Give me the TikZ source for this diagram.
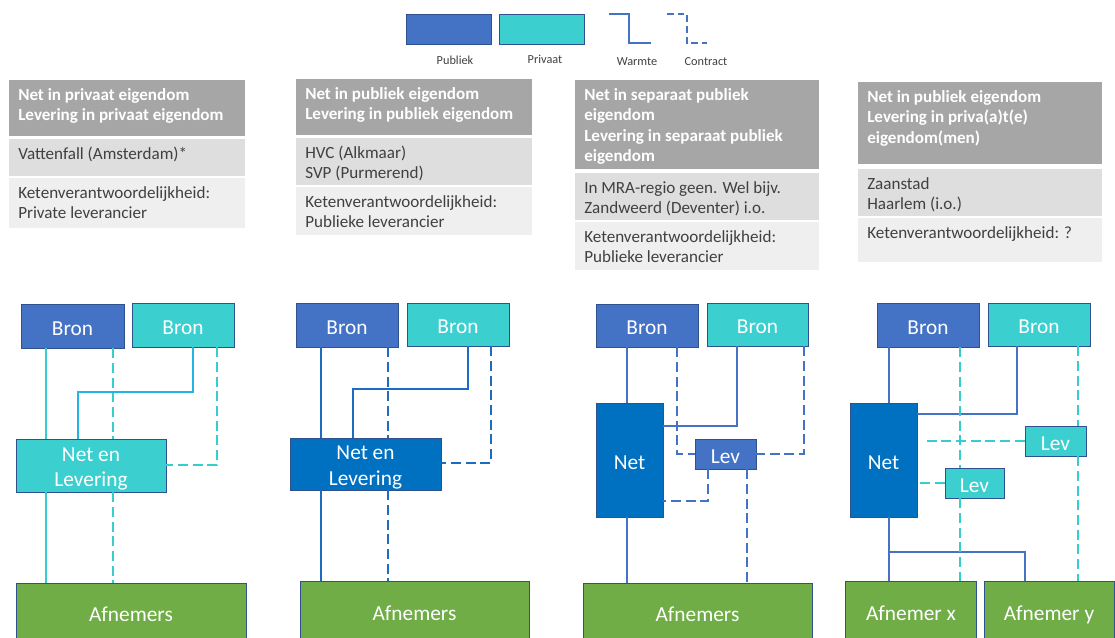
\documentclass[tikz,border=0pt]{standalone}
\usepackage{fontspec}
\setmainfont{Carlito}
\usepackage{tikz}
\definecolor{publiek}{HTML}{4472C4}
\definecolor{privaat}{HTML}{3BCFCF}
\definecolor{netblauw}{HTML}{0070C0}
\definecolor{afnemer}{HTML}{70AD47}
\definecolor{rand}{HTML}{2F528F}
\definecolor{kop}{HTML}{A6A6A6}
\definecolor{rij1}{HTML}{DEDEDE}
\definecolor{rij2}{HTML}{EFEFEF}
\definecolor{tekst}{HTML}{404040}
\definecolor{lijnblauw}{HTML}{4472C4}
\definecolor{lijnnet}{HTML}{1C6DC1}
\definecolor{lijnturkoois}{HTML}{36CCD0}
\definecolor{lijnlicht}{HTML}{22B4E4}
\newlength\px
\setlength\px{0.75pt}
\newcommand{\cellbox}[3]{\parbox[t][#2\px][t]{#1\px}{\raggedright\rule{0pt}{15pt}#3}}
\newcommand{\topstrut}{\rule{0pt}{17.2pt}}
\newcommand{\botstrut}{\rule[-3.5pt]{0pt}{3.5pt}}

\begin{document}
\begin{tikzpicture}[
            x=0.75pt, y=-0.75pt,
            box/.style 2 args={rectangle,draw=rand,line width=0.6pt,text=white,inner sep=0pt,align=center,
              font=\fontsize{16}{19}\selectfont,minimum width=#1*0.75pt,minimum height=#2*0.75pt,
              execute at begin node=\topstrut,execute at end node=\botstrut},
            twolines/.style={execute at begin node=\rule{0pt}{35pt}},
            cell/.style={anchor=north west,inner xsep=6.75pt,inner ysep=0pt,fill=#1},
            kopcell/.style={cell=kop,text=white,font=\fontsize{12.8}{15.4}\selectfont\bfseries},
            rijcell/.style={cell=#1,text=tekst,font=\fontsize{12.8}{15.4}\selectfont},
            lbl/.style={text=tekst,font=\fontsize{9.2}{11}\selectfont},
            warm/.style={draw=#1,line width=2.2pt},
            contract/.style={draw=#1,line width=2.2pt,dash pattern=on 7.5pt off 3.5pt},
            ]
            \useasboundingbox (0,0) rectangle (1115,637);
            \clip (0,0) rectangle (1115,637);

            \node[box={85}{30}, fill=publiek] (legpub) at (448.5,29) {};
            \node[box={85}{30}, fill=privaat] (legpriv) at (541.5,29) {};
            \node[lbl] (legpubtxt) at (455,60) {Publiek};
            \node[lbl] (legprivtxt) at (545,59) {Privaat};
            \node[lbl] (legwarmtxt) at (637,62) {Warmte};
            \node[lbl] (legcontrtxt) at (706,62) {Contract};
            \draw[warm=lijnblauw] (609,14) -- (629,14) -- (629,43) -- (651,43);
            \draw[draw=lijnblauw, line width=2.2pt, dash pattern=on 5pt off 3pt] (667,14) -- (687,14) -- (687,43) -- (707,43);

            \node[kopcell] (kop1) at (9,80) {\cellbox{218}{56}{Net in privaat eigendom\\Levering in privaat eigendom}};
            \node[rijcell=rij1] (voorb1) at (9,139) {\cellbox{218}{37}{Vattenfall (Amsterdam)*}};
            \node[rijcell=rij2] (keten1) at (9,178) {\cellbox{218}{50}{Ketenverantwoordelijkheid:\\Private leverancier}};

            \node[kopcell] (kop2) at (296,79) {\cellbox{218}{56}{Net in publiek eigendom\\Levering in publiek eigendom}};
            \node[rijcell=rij1] (voorb2) at (296,138) {\cellbox{218}{47}{HVC (Alkmaar)\\SVP (Purmerend)}};
            \node[rijcell=rij2] (keten2) at (296,187) {\cellbox{218}{48}{Ketenverantwoordelijkheid:\\Publieke leverancier}};

            \node[kopcell] (kop3) at (575,80) {\cellbox{226}{89}{Net in separaat publiek\\eigendom\\Levering in separaat publiek\\eigendom}};
            \node[rijcell=rij1] (voorb3) at (575,173) {\cellbox{226}{47}{In MRA-regio geen. Wel bijv.\\Zandweerd (Deventer) i.o.}};
            \node[rijcell=rij2] (keten3) at (575,222) {\cellbox{226}{48}{Ketenverantwoordelijkheid:\\Publieke leverancier}};

            \node[kopcell] (kop4) at (858,82) {\cellbox{226}{82}{Net in publiek eigendom\\Levering in priva(a)t(e)\\eigendom(men)}};
            \node[rijcell=rij1] (voorb4) at (858,169) {\cellbox{226}{47}{Zaanstad\\Haarlem (i.o.)}};
            \node[rijcell=rij2] (keten4) at (858,218) {\cellbox{226}{44}{Ketenverantwoordelijkheid: ?}};

            \node[box={103}{44}, fill=publiek] (bronA1) at (72.5,326) {Bron};
            \node[box={102}{44}, fill=privaat] (bronB1) at (183,325) {Bron};
            \node[box={150}{53}, fill=privaat, twolines] (netlev1) at (91,465.5) {Net en\\Levering};
            \node[box={230}{58}, fill=afnemer] (afn1) at (131,612) {Afnemers};
            \draw[warm=lijnturkoois] (bronA1.south -| 46,0) -- (netlev1.north -| 46,0);
            \draw[warm=lijnturkoois] (netlev1.south -| 46,0) -- (afn1.north -| 46,0);
            \draw[contract=lijnturkoois] (bronA1.south -| 113,0) -- (netlev1.north -| 113,0);
            \draw[contract=lijnturkoois] (netlev1.south -| 113,0) -- (afn1.north -| 113,0);
            \draw[warm=lijnlicht] (bronB1.south -| 193,0) |- (78,392) -- (netlev1.north -| 78,0);
            \draw[contract=lijnturkoois] (bronB1.south -| 217,0) |- (netlev1.east |- 0,465);

            \node[box={102}{44}, fill=publiek] (bronA2) at (347,325) {Bron};
            \node[box={102}{43}, fill=privaat] (bronB2) at (458,324.5) {Bron};
            \node[box={151}{52}, fill=netblauw, twolines] (netlev2) at (365.5,464) {Net en\\Levering};
            \node[box={229}{60}, fill=afnemer] (afn2) at (414.5,611) {Afnemers};
            \draw[warm=lijnnet] (bronA2.south -| 321,0) -- (netlev2.north -| 321,0);
            \draw[warm=lijnnet] (netlev2.south -| 321,0) -- (afn2.north -| 321,0);
            \draw[contract=lijnnet] (bronA2.south -| 388,0) -- (netlev2.north -| 388,0);
            \draw[contract=lijnnet] (netlev2.south -| 388,0) -- (afn2.north -| 388,0);
            \draw[warm=lijnnet] (bronB2.south -| 468,0) |- (353,389) -- (netlev2.north -| 353,0);
            \draw[contract=lijnnet] (bronB2.south -| 491,0) |- (netlev2.east |- 0,463);

            \node[box={102}{43}, fill=publiek] (bronA3) at (647,325.5) {Bron};
            \node[box={101}{43}, fill=privaat] (bronB3) at (757.5,324.5) {Bron};
            \node[box={67}{114}, fill=netblauw] (net3) at (629.5,460) {Net};
            \node[box={61}{30}, fill=publiek] (lev3) at (725.5,454) {Lev};
            \node[box={229}{58}, fill=afnemer] (afn3) at (697.5,612) {Afnemers};
            \draw[warm=lijnblauw] (bronA3.south -| 627,0) -- (net3.north -| 627,0);
            \draw[warm=lijnblauw] (net3.south -| 627,0) -- (afn3.north -| 627,0);
            \draw[contract=lijnblauw] (bronA3.south -| 677,0) |- (lev3.west);
            \draw[warm=lijnblauw] (bronB3.south -| 737,0) |- (net3.east |- 0,426);
            \draw[contract=lijnblauw] (bronB3.south -| 804,0) |- (lev3.east);
            \draw[contract=lijnblauw] (lev3.south -| 708,0) |- (net3.east |- 0,501);
            \draw[contract=lijnblauw] (lev3.south -| 747,0) -- (afn3.north -| 747,0);

            \node[box={102}{44}, fill=publiek] (bronA4) at (928,325) {Bron};
            \node[box={102}{43}, fill=privaat] (bronB4) at (1039,324.5) {Bron};
            \node[box={67}{114}, fill=netblauw] (net4) at (883.5,460) {Net};
            \node[box={61}{30}, fill=privaat] (levB4) at (1055.5,441) {Lev};
            \node[box={59}{30}, fill=privaat] (levA4) at (974.5,483) {Lev};
            \node[box={131}{60}, fill=afnemer] (afnx) at (911,611) {Afnemer x};
            \node[box={130}{60}, fill=afnemer] (afny) at (1049,611) {Afnemer y};
            \coordinate (split4) at (889,552);
            \draw[warm=lijnblauw] (bronA4.south -| 889,0) -- (net4.north -| 889,0);
            \draw[warm=lijnblauw] (net4.south -| 889,0) -- (afnx.north -| 889,0);
            \draw[warm=lijnblauw] (split4) -| (afny.north -| 1025,0);
            \draw[warm=lijnblauw] (bronB4.south -| 1017,0) |- (net4.east |- 0,414);
            \draw[contract=lijnturkoois] (bronA4.south -| 960,0) -- (levA4.north -| 960,0);
            \draw[contract=lijnturkoois] (levA4.south -| 960,0) -- (afnx.north -| 960,0);
            \draw[contract=lijnturkoois] (bronB4.south -| 1078,0) -- (levB4.north -| 1078,0);
            \draw[contract=lijnturkoois] (levB4.south -| 1078,0) -- (afny.north -| 1078,0);
            \draw[contract=lijnturkoois, shorten >=6pt] (levB4.west) -- (net4.east |- levB4.west);
            \draw[contract=lijnturkoois] (levA4.west) -- (net4.east |- levA4.west);
        \end{tikzpicture}
\end{document}
